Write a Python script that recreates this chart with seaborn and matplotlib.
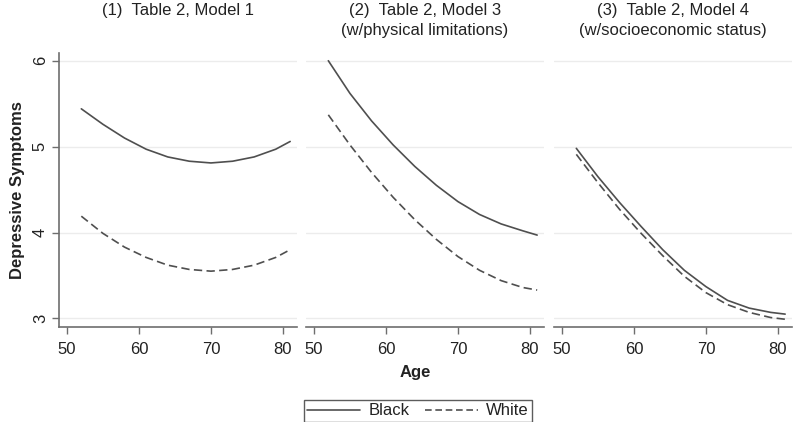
import numpy as np
import pandas as pd
import matplotlib
matplotlib.use("Agg")
import matplotlib.pyplot as plt
from matplotlib.lines import Line2D
import seaborn as sns

# Predicted depressive symptoms by age
ages = [52, 55, 58, 61, 64, 67, 70, 73, 76, 79, 81]

m1_black = [5.44, 5.26, 5.10, 4.97, 4.88, 4.83, 4.81, 4.83, 4.88, 4.97, 5.06]
m1_white = [4.19, 3.99, 3.83, 3.71, 3.62, 3.57, 3.55, 3.57, 3.62, 3.71, 3.80]

m3_black = [6.00, 5.62, 5.30, 5.02, 4.77, 4.55, 4.36, 4.21, 4.10, 4.02, 3.97]
m3_white = [5.37, 5.02, 4.70, 4.41, 4.15, 3.92, 3.72, 3.56, 3.44, 3.36, 3.33]

m4_black = [4.98, 4.65, 4.35, 4.07, 3.80, 3.56, 3.37, 3.21, 3.12, 3.07, 3.05]
m4_white = [4.91, 4.58, 4.27, 3.99, 3.73, 3.49, 3.30, 3.16, 3.07, 3.01, 2.99]

panel_titles = [
    "(1)  Table 2, Model 1",
    "(2)  Table 2, Model 3\n(w/physical limitations)",
    "(3)  Table 2, Model 4\n(w/socioeconomic status)",
]
x_ticks = [50, 60, 70, 80]
y_ticks = [3, 4, 5, 6]

series = [(m1_black, m1_white), (m3_black, m3_white), (m4_black, m4_white)]
frames = []
for i, (blk, wht) in enumerate(series):
    frames.append(pd.DataFrame({"panel": i, "age": ages, "symptoms": blk, "race": "Black"}))
    frames.append(pd.DataFrame({"panel": i, "age": ages, "symptoms": wht, "race": "White"}))
df = pd.concat(frames, ignore_index=True)

sns.set_style("white")
plt.rcParams["font.family"] = ["Liberation Sans", "DejaVu Sans"]
plt.rcParams["font.size"] = 12
plt.rcParams["lines.solid_joinstyle"] = "round"
plt.rcParams["lines.dash_joinstyle"] = "round"

line_col = "#4f4f4f"
axis_col = "#6e6e6e"
text_col = "#222222"

W, H = 800, 422
fig = plt.figure(figsize=(8, 4.22), dpi=100)

panel_left = [59, 306, 554]
panel_w = 238
top_px, bottom_px = 53, 327

for i, left in enumerate(panel_left):
    ax = fig.add_axes([left / W, 1 - bottom_px / H, panel_w / W, (bottom_px - top_px) / H])
    sub = df[df["panel"] == i]
    sns.lineplot(data=sub, x="age", y="symptoms", hue="race", style="race",
                 palette={"Black": line_col, "White": line_col},
                 dashes={"Black": "", "White": (5, 2.6)},
                 linewidth=1.2, legend=False, ax=ax)
    ax.set_xlim(48.9, 81.95)
    ax.set_ylim(2.9, 6.09)
    for yv in y_ticks:
        ax.axhline(yv, color="#ececec", lw=1, zorder=0)
    ax.set_xticks(x_ticks)
    ax.set_xlabel("")
    ax.set_ylabel("")
    for s in ["top", "right"]:
        ax.spines[s].set_visible(False)
    ax.spines["bottom"].set_color(axis_col)
    ax.spines["bottom"].set_linewidth(1.2)
    ax.tick_params(axis="x", length=5, width=1, color=axis_col, labelsize=12,
                   labelcolor=text_col, pad=6, direction="out", bottom=True)
    if i == 0:
        ax.spines["left"].set_color(axis_col)
        ax.spines["left"].set_linewidth(1.2)
        ax.set_yticks(y_ticks)
        ax.tick_params(axis="y", length=5, width=1, color=axis_col, labelsize=12,
                       labelcolor=text_col, pad=3, direction="out", left=True,
                       labelrotation=90)
        for lbl in ax.get_yticklabels():
            lbl.set_va("center")
    else:
        ax.spines["left"].set_visible(False)
        ax.set_yticks(y_ticks)
        ax.tick_params(axis="y", left=False, labelleft=False)
    fig.text((left + panel_w / 2) / W, 1 - 3 / H, panel_titles[i], ha="center", va="top",
             fontsize=12, color=text_col, linespacing=1.4)

fig.text(18 / W, 1 - 190 / H, "Depressive Symptoms", rotation=90, ha="center", va="center",
         fontsize=12, fontweight="bold", color=text_col)
fig.text(415 / W, 1 - 373 / H, "Age", ha="center", va="center",
         fontsize=12, fontweight="bold", color=text_col)

handles = [Line2D([], [], color=line_col, lw=1.2),
           Line2D([], [], color=line_col, lw=1.2, dashes=(4, 2.2))]
leg = fig.legend(handles, ["Black", "White"], loc="upper center",
                 bbox_to_anchor=(418 / W, 1 - 400 / H), ncol=2, frameon=True,
                 fancybox=False, handlelength=3.2, columnspacing=0.9,
                 handletextpad=0.5, borderpad=0.2, borderaxespad=0, fontsize=12)
leg.get_frame().set_edgecolor("#333333")
leg.get_frame().set_linewidth(1.0)
for t in leg.get_texts():
    t.set_color(text_col)

plt.savefig("out.png", dpi=100)
plt.close()
